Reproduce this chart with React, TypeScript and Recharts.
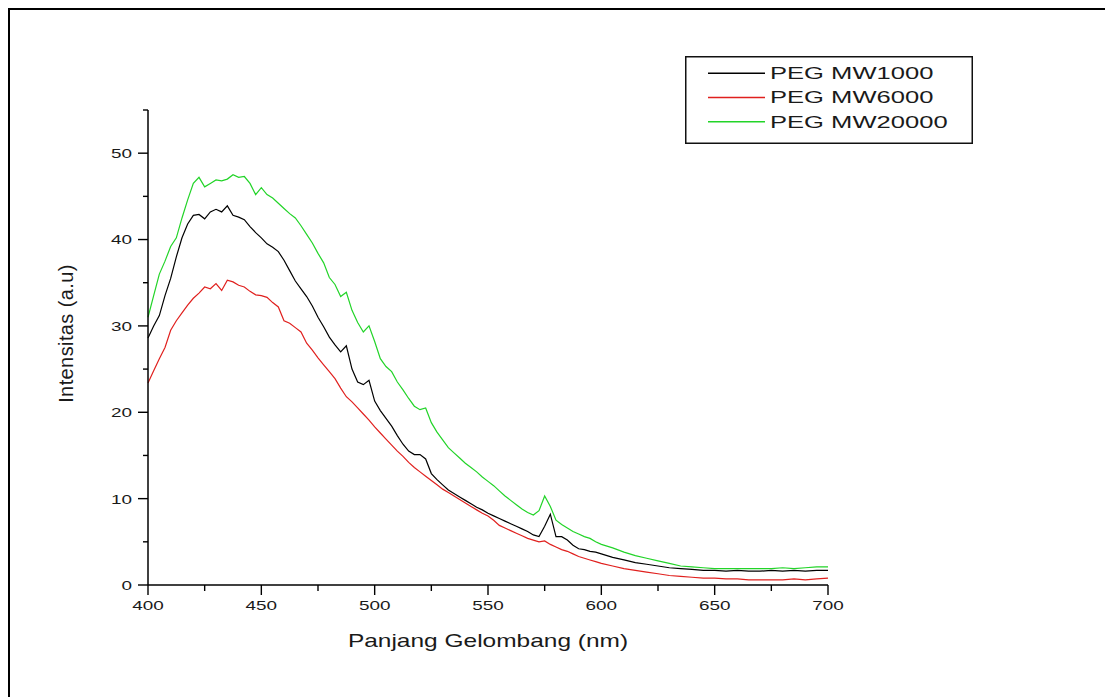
import React from 'react';
import { LineChart, Line, XAxis, YAxis, Legend } from 'recharts';

const wavelengths = [
  400, 402.5, 405, 407.5, 410, 412.5, 415, 417.5, 420, 422.5,
  425, 427.5, 430, 432.5, 435, 437.5, 440, 442.5, 445, 447.5,
  450, 452.5, 455, 457.5, 460, 462.5, 465, 467.5, 470, 472.5,
  475, 477.5, 480, 482.5, 485, 487.5, 490, 492.5, 495, 497.5,
  500, 502.5, 505, 507.5, 510, 512.5, 515, 517.5, 520, 522.5,
  525, 527.5, 530, 532.5, 535, 537.5, 540, 542.5, 545, 547.5,
  550, 552.5, 555, 557.5, 560, 562.5, 565, 567.5, 570, 572.5,
  575, 577.5, 580, 582.5, 585, 587.5, 590, 592.5, 595, 597.5,
  600, 605, 610, 615, 620, 625, 630, 635, 640, 645,
  650, 655, 660, 665, 670, 675, 680, 685, 690, 695,
  700,
];

const mw1000 = [
  28.6, 30.0, 31.2, 33.5, 35.5, 38.0, 40.2, 41.8, 42.8, 42.9,
  42.4, 43.2, 43.5, 43.2, 43.9, 42.8, 42.6, 42.3, 41.5, 40.8,
  40.2, 39.5, 39.1, 38.6, 37.6, 36.4, 35.2, 34.3, 33.4, 32.3,
  31.0, 29.9, 28.7, 27.8, 27.0, 27.7, 25.0, 23.5, 23.2, 23.7,
  21.3, 20.2, 19.3, 18.4, 17.3, 16.3, 15.5, 15.1, 15.1, 14.6,
  12.9, 12.2, 11.6, 11.0, 10.6, 10.2, 9.8, 9.4, 9.0, 8.7,
  8.3, 8.0, 7.7, 7.4, 7.1, 6.8, 6.5, 6.2, 5.8, 5.6,
  6.8, 8.2, 5.6, 5.6, 5.2, 4.6, 4.2, 4.1, 3.9, 3.8,
  3.6, 3.2, 2.9, 2.6, 2.4, 2.2, 2.0, 1.9, 1.8, 1.7,
  1.7, 1.6, 1.7, 1.6, 1.6, 1.7, 1.6, 1.7, 1.6, 1.7,
  1.7,
];

const mw6000 = [
  23.4, 24.8, 26.2, 27.5, 29.5, 30.6, 31.5, 32.4, 33.2, 33.8,
  34.5, 34.3, 34.9, 34.1, 35.3, 35.1, 34.7, 34.5, 34.0, 33.6,
  33.5, 33.3, 32.7, 32.2, 30.6, 30.3, 29.8, 29.3, 28.0, 27.2,
  26.3, 25.5, 24.7, 23.9, 22.8, 21.8, 21.2, 20.5, 19.8, 19.1,
  18.3, 17.6, 16.9, 16.2, 15.5, 14.9, 14.2, 13.6, 13.1, 12.6,
  12.1, 11.6, 11.1, 10.7, 10.3, 9.9, 9.5, 9.1, 8.7, 8.3,
  8.0, 7.5, 6.9, 6.6, 6.3, 6.0, 5.7, 5.4, 5.2, 5.0,
  5.1, 4.7, 4.4, 4.1, 3.9, 3.6, 3.3, 3.1, 2.9, 2.7,
  2.5, 2.2, 1.9, 1.7, 1.5, 1.3, 1.1, 1.0, 0.9, 0.8,
  0.8, 0.7, 0.7, 0.6, 0.6, 0.6, 0.6, 0.7, 0.6, 0.7,
  0.8,
];

const mw20000 = [
  31.0, 33.5, 36.0, 37.5, 39.2, 40.2, 42.5, 44.6, 46.5, 47.2,
  46.1, 46.5, 46.9, 46.8, 47.0, 47.5, 47.2, 47.3, 46.5, 45.2,
  46.0, 45.2, 44.8, 44.2, 43.6, 43.0, 42.5, 41.6, 40.6, 39.6,
  38.4, 37.3, 35.6, 34.8, 33.4, 33.9, 31.8, 30.4, 29.3, 30.0,
  28.2, 26.2, 25.3, 24.7, 23.5, 22.6, 21.6, 20.7, 20.3, 20.5,
  18.8, 17.7, 16.8, 15.9, 15.3, 14.7, 14.1, 13.6, 13.1, 12.5,
  12.0, 11.5, 10.9, 10.3, 9.8, 9.3, 8.8, 8.4, 8.1, 8.6,
  10.3, 9.1, 7.5, 7.0, 6.6, 6.2, 5.9, 5.6, 5.4, 5.0,
  4.7, 4.3, 3.8, 3.4, 3.1, 2.8, 2.5, 2.2, 2.1, 2.0,
  1.9, 1.9, 1.9, 1.9, 1.9, 1.9, 2.0, 1.9, 2.0, 2.1,
  2.1,
];

const seriesKeys = ['mw1000', 'mw6000', 'mw20000'];
const seriesNames = ['PEG MW1000', 'PEG MW6000', 'PEG MW20000'];
const seriesColors = ['#000000', '#e0201e', '#22d428'];

const xTicks = [400, 425, 450, 475, 500, 525, 550, 575, 600, 625, 650, 675, 700];
const xLabeledTicks = [400, 450, 500, 550, 600, 650, 700];
const yTicks = [0, 5, 10, 15, 20, 25, 30, 35, 40, 45, 50, 55];
const yLabeledTicks = [0, 10, 20, 30, 40, 50];

const xTitle = 'Panjang Gelombang (nm)';
const yTitle = 'Intensitas (a.u)';

const data = wavelengths.map((w, i) => ({
  w,
  mw1000: mw1000[i],
  mw6000: mw6000[i],
  mw20000: mw20000[i],
}));

const FONT = '"Liberation Sans", Arial, sans-serif';
const STRETCH = 1.4;

const X_TICK_SIZE = 10;
const X_TICK_MARGIN = 5;
const Y_TICK_SIZE = 10;
const Y_TICK_MARGIN = 6;

const XTick = (props: any) => {
  const { x, y, payload } = props;
  const v = payload.value;
  const major = xLabeledTicks.includes(v);
  const axisY = y - X_TICK_SIZE - X_TICK_MARGIN;
  return (
    <g>
      <line x1={x} x2={x} y1={axisY} y2={axisY + (major ? 10 : 6)} stroke="#000" strokeWidth={1.4} />
      {major && (
        <text
          transform={`translate(${x},${y}) scale(${STRETCH},1)`}
          textAnchor="middle"
          dy="0.72em"
          fontSize={13.5}
          fontFamily={FONT}
          fill="#1a1a1a"
        >
          {v}
        </text>
      )}
    </g>
  );
};

const YTick = (props: any) => {
  const { x, y, payload } = props;
  const v = payload.value;
  const major = yLabeledTicks.includes(v);
  const axisX = x + Y_TICK_SIZE + Y_TICK_MARGIN;
  return (
    <g>
      <line x1={axisX} x2={axisX - (major ? 10 : 5)} y1={y} y2={y} stroke="#000" strokeWidth={1.4} />
      {major && (
        <text
          transform={`translate(${x},${y}) scale(${STRETCH},1)`}
          textAnchor="end"
          dy="0.36em"
          fontSize={13.5}
          fontFamily={FONT}
          fill="#1a1a1a"
        >
          {v}
        </text>
      )}
    </g>
  );
};

const renderLegend = (props: any) => {
  const payload = [...(props.payload || [])].sort(
    (a: any, b: any) => seriesNames.indexOf(a.value) - seriesNames.indexOf(b.value)
  );
  return (
    <svg width={288} height={88} style={{ display: 'block' }}>
      <rect x={0.75} y={0.75} width={286.5} height={86.5} fill="#fff" stroke="#111" strokeWidth={1.5} />
      {payload.map((p: any, i: number) => {
        const cy = 17.3 + i * 24.2;
        return (
          <g key={p.value}>
            <line x1={23} x2={80} y1={cy} y2={cy} stroke={p.color} strokeWidth={1.4} />
            <text
              transform={`translate(85,${cy}) scale(1.55,1)`}
              dy="0.36em"
              fontSize={16.5}
              fontFamily={FONT}
              fill="#1a1a1a"
            >
              {p.value}
            </text>
          </g>
        );
      })}
    </svg>
  );
};

const XTitle = (props: any) => {
  const vb = props.viewBox || { x: 138, y: 575, width: 680, height: 30 };
  const cx = vb.x + vb.width / 2;
  return (
    <text
      transform={`translate(${cx},${vb.y + 56}) scale(${STRETCH},1)`}
      textAnchor="middle"
      dominantBaseline="central"
      fontSize={17.5}
      fontFamily={FONT}
      fill="#1a1a1a"
    >
      {xTitle}
    </text>
  );
};

const YTitle = (props: any) => {
  const vb = props.viewBox || { x: 78, y: 100, width: 60, height: 475 };
  const cx = vb.x - 22;
  const cy = vb.y + vb.height / 2 - 14;
  return (
    <text
      transform={`translate(${cx},${cy}) rotate(-90)`}
      textAnchor="middle"
      dominantBaseline="central"
      fontSize={20}
      letterSpacing={0.4}
      fontFamily={FONT}
      fill="#1a1a1a"
    >
      {yTitle}
    </text>
  );
};

export default function App() {
  return (
    <div
      style={{
        width: 1105,
        height: 689,
        boxSizing: 'border-box',
        borderLeft: '2px solid #000',
        borderTop: '2px solid #000',
        background: '#fff',
        position: 'relative',
        overflow: 'hidden',
      }}
    >
      <LineChart
        width={1103}
        height={687}
        data={data}
        margin={{ top: 100, right: 285, left: 78, bottom: 82 }}
      >
        <XAxis
          dataKey="w"
          type="number"
          domain={[400, 700]}
          ticks={xTicks}
          interval={0}
          height={30}
          tickSize={X_TICK_SIZE}
          tickMargin={X_TICK_MARGIN}
          tickLine={false}
          tick={<XTick />}
          axisLine={{ stroke: '#000', strokeWidth: 1.5 }}
          label={{ content: <XTitle /> } as any}
        />
        <YAxis
          type="number"
          domain={[0, 55]}
          ticks={yTicks}
          interval={0}
          width={60}
          tickSize={Y_TICK_SIZE}
          tickMargin={Y_TICK_MARGIN}
          tickLine={false}
          tick={<YTick />}
          axisLine={{ stroke: '#000', strokeWidth: 1.5 }}
          label={{ content: <YTitle /> } as any}
        />
        <Legend
          layout="vertical"
          align="center"
          verticalAlign="middle"
          content={renderLegend}
          wrapperStyle={{ position: 'absolute', left: 675, top: 46, width: 288, height: 88 }}
        />
        {seriesKeys.map((k, i) => (
          <Line
            key={k}
            type="linear"
            dataKey={k}
            name={seriesNames[i]}
            stroke={seriesColors[i]}
            strokeWidth={1.2}
            dot={false}
            activeDot={false}
            isAnimationActive={false}
          />
        ))}
      </LineChart>
    </div>
  );
}
